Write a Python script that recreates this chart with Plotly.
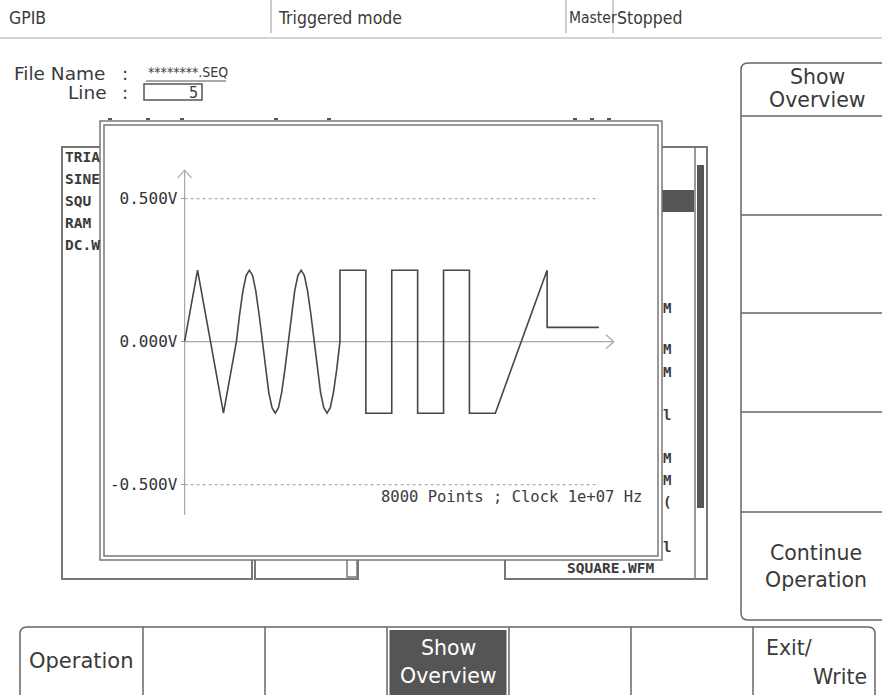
import plotly.graph_objects as go

W, H = 882, 695

# ---- waveform sequence (sample index, volts) ----
tri_idx = [0, 250, 750, 1000]
tri_v = [0.0, 0.25, -0.25, 0.0]

sine_idx = [1000, 1063, 1125, 1188, 1250, 1313, 1375, 1438, 1500, 1563, 1625,
            1688, 1750, 1813, 1875, 1938, 2000, 2063, 2125, 2188, 2250, 2313,
            2375, 2438, 2500, 2563, 2625, 2688, 2750, 2813, 2875, 2938, 3000]
sine_v = [0.0, 0.096, 0.177, 0.231, 0.25, 0.231, 0.177, 0.096, 0.0, -0.096,
          -0.177, -0.231, -0.25, -0.231, -0.177, -0.096, 0.0, 0.096, 0.177,
          0.231, 0.25, 0.231, 0.177, 0.096, 0.0, -0.096, -0.177, -0.231,
          -0.25, -0.231, -0.177, -0.096, 0.0]

square_idx = [3000, 3000, 3500, 3500, 4000, 4000, 4500, 4500, 5000, 5000,
              5500, 5500, 6000]
square_v = [0.0, 0.25, 0.25, -0.25, -0.25, 0.25, 0.25, -0.25, -0.25, 0.25,
            0.25, -0.25, -0.25]

ramp_idx = [6000, 7000]
ramp_v = [-0.25, 0.25]

dc_idx = [7000, 8000]
dc_v = [0.05, 0.05]

ytick_vals = [-0.5, 0.0, 0.5]
ytick_text = ["-0.500V", "0.000V", "0.500V"]
info_text = "8000 Points ; Clock 1e+07 Hz"

list_left = ["TRIA", "SINE", "SQU", "RAM", "DC.W"]
list_right_frag = [(308, "M"), (349, "M"), (372, "M"), (415, "l"),
                   (458, "M"), (480, "M"), (502, "("), (547, "l")]

idx = tri_idx + sine_idx[1:] + square_idx[1:] + ramp_idx + dc_idx
volts = tri_v + sine_v[1:] + square_v[1:] + ramp_v + dc_v

# ---- geometry of the overview plot (pixels) ----
X0_PX, X_END_PX, N_PTS = 184.6, 598.9, 8000
K = (X_END_PX - X0_PX) / N_PTS        # px per sample
Y0_PX, PX_PER_V = 341.7, 286.0
DOM_L, DOM_R, DOM_T, DOM_B = 108, 654, 128, 553

TXT = "#3a3a3a"
LINE = "#6e6e6e"
DARK = "#555555"
COND = "DejaVu Sans Condensed, Liberation Sans Narrow, Roboto"
SANS = "DejaVu Sans, Verdana, Noto Sans"
MONO = "DejaVu Sans Mono, Liberation Mono"

fig = go.Figure()
fig.add_trace(go.Scatter(x=idx, y=volts, mode="lines", xaxis="x2", yaxis="y2",
                         line=dict(color="#474747", width=1.6),
                         hoverinfo="skip", showlegend=False))

shapes = []


def seg(x0, y0, x1, y1, color=LINE, width=1.5, dash="solid"):
    shapes.append(dict(type="line", xref="x", yref="y", x0=x0, y0=y0, x1=x1,
                       y1=y1, line=dict(color=color, width=width, dash=dash),
                       layer="below"))


def rect(x0, y0, x1, y1, fill="rgba(0,0,0,0)", color=LINE, width=1.5):
    shapes.append(dict(type="rect", xref="x", yref="y", x0=x0, y0=y0, x1=x1,
                       y1=y1, fillcolor=fill, line=dict(color=color, width=width),
                       layer="below"))


def path(d, color=LINE, width=1.5):
    shapes.append(dict(type="path", xref="x", yref="y", path=d,
                       line=dict(color=color, width=width), layer="below"))


# status bar
for sx in [271, 566, 613]:
    seg(sx, 0, sx, 33, "#9a9a9a", 1)
seg(0, 38, W, 38, "#a8a8a8", 1.2)

# file name / line box
seg(146, 81, 226, 81, "#555", 1)
rect(144, 84, 202, 100, color="#555", width=1.5)

# background list boxes (partly hidden by the overview window)
path("M 100 147 L 62 147 L 62 579 L 252 579 L 252 560", "#777", 2)
path("M 255 560 L 255 579 L 358 579 L 358 560", "#777", 2)
path("M 347 560 L 347 577 L 357 577 L 357 560", "#777", 1.5)
path("M 662 147 L 707 147 L 707 579 L 505 579 L 505 560", "#777", 2)
seg(695, 147, 695, 579, "#777", 1.5)
rect(662, 190, 694, 212, fill=DARK, color=DARK, width=0)
rect(697, 165, 704, 508, fill=DARK, color=DARK, width=0)
for mx in [108, 146, 180, 274, 327, 573, 590, 607]:
    seg(mx, 119, mx + 4, 119, "#555", 2)

# overview window
rect(100, 121, 662, 560, fill="white", color="#777", width=1.5)
rect(104, 125, 658, 556, color="#777", width=1.5)

# right soft-key panel
path("M 884 63 L 748 63 Q 741 63 741 70 L 741 613 Q 741 620 748 620 L 884 620",
     "#666", 1.5)
for dy in [116, 215, 313, 412, 512]:
    seg(741, dy, 884, dy, "#666", 1.5)

# bottom soft-key row
path("M 20 697 L 20 634 Q 20 627 27 627 L 868 627 Q 875 627 875 634 L 875 697",
     "#666", 1.5)
for bx in [143, 265, 387, 509, 631, 753]:
    seg(bx, 627, bx, 697, "#666", 1.5)
rect(389.5, 630, 506.5, 697, fill=DARK, color=DARK, width=0)

# overview axes (drawn on the waveform scale)
x_arrow_tip = 8290
y_top, y_bot = 0.600, -0.606
dx8, dx7 = 8 / K, 7 / K
dy7, dy8 = 7 / PX_PER_V, 8 / PX_PER_V
AX = "#a8a8a8"


def dseg(x0, y0, x1, y1, color=AX, width=1.2, dash="solid"):
    shapes.append(dict(type="line", xref="x2", yref="y2", x0=x0, y0=y0, x1=x1,
                       y1=y1, line=dict(color=color, width=width, dash=dash),
                       layer="below"))


dseg(0, y_bot, 0, y_top)
dseg(0, y_top, -dx7, y_top - dy8)
dseg(0, y_top, dx7, y_top - dy8)
dseg(0, 0, x_arrow_tip, 0)
dseg(x_arrow_tip, 0, x_arrow_tip - dx8, dy7)
dseg(x_arrow_tip, 0, x_arrow_tip - dx8, -dy7)
for gv in [0.5, -0.5]:
    dseg(0, gv, N_PTS, gv, "#9a9a9a", 1, "dot")

ann = []


def text(x, y, s, size, family, anchor="left", color=TXT, weight=None):
    f = dict(size=size, family=family, color=color)
    if weight:
        f["weight"] = weight
    ann.append(dict(x=x, y=y, xref="x", yref="y", text=s, showarrow=False,
                    xanchor=anchor, yanchor="middle", font=f, align=anchor))


text(7, 18, "GPIB", 17.5, COND)
text(276, 18, "Triggered mode", 17.5, COND)
text(567, 18, "Master", 15.5, COND)
text(615, 18, "Stopped", 17.5, COND)

text(12, 73, "File Name", 18.5, SANS)
text(125, 73, ":", 18.5, SANS, "center")
text(146, 72, "********.SEQ", 14, COND)
text(109, 92, "Line", 18.5, SANS, "right")
text(125, 92, ":", 18.5, SANS, "center")
text(200, 92, "5", 16, COND, "right")

for i, s in enumerate(list_left):
    text(63, 157 + 22 * i, s, 14.5, MONO, weight="bold")
for fy, s in list_right_frag:
    text(661, fy, s, 14, MONO, weight="bold")
text(657, 568, "SQUARE.WFM", 14.5, MONO, "right", weight="bold")

text(644, 497, info_text, 15.5, MONO, "right", color="#3c3c3c")

text(817, 77, "Show", 20.5, SANS, "center")
text(817, 100, "Overview", 20.5, SANS, "center")
text(816, 553, "Continue", 20.5, SANS, "center")
text(816, 580, "Operation", 20.5, SANS, "center")
text(81, 661, "Operation", 21, SANS, "center")
text(448, 648, "Show", 20.5, SANS, "center", color="white")
text(448, 676, "Overview", 20.5, SANS, "center", color="white")
text(764, 648, "Exit/", 20.5, SANS)
text(869, 677, "Write", 20.5, SANS, "right")

fig.update_layout(
    width=W, height=H,
    margin=dict(l=0, r=0, t=0, b=0),
    paper_bgcolor="white",
    plot_bgcolor="rgba(0,0,0,0)",
    showlegend=False,
    shapes=shapes,
    annotations=ann,
    xaxis=dict(range=[0, W], visible=False, domain=[0, 1], fixedrange=True),
    yaxis=dict(range=[H, 0], visible=False, domain=[0, 1], fixedrange=True),
    xaxis2=dict(domain=[DOM_L / W, DOM_R / W],
                range=[(DOM_L - X0_PX) / K, (DOM_R - X0_PX) / K],
                visible=False, anchor="y2", fixedrange=True),
    yaxis2=dict(domain=[1 - DOM_B / H, 1 - DOM_T / H],
                range=[(Y0_PX - DOM_B) / PX_PER_V, (Y0_PX - DOM_T) / PX_PER_V],
                anchor="free", position=X0_PX / W,
                showgrid=False, zeroline=False, showline=False,
                tickvals=ytick_vals, ticktext=ytick_text,
                ticks="outside", ticklen=4, tickcolor="#9a9a9a",
                tickfont=dict(family=MONO, size=16, color="#333"),
                fixedrange=True),
)

fig.write_html("out.html", config={"displayModeBar": False},
               post_script="document.body.style.margin='0px';")
